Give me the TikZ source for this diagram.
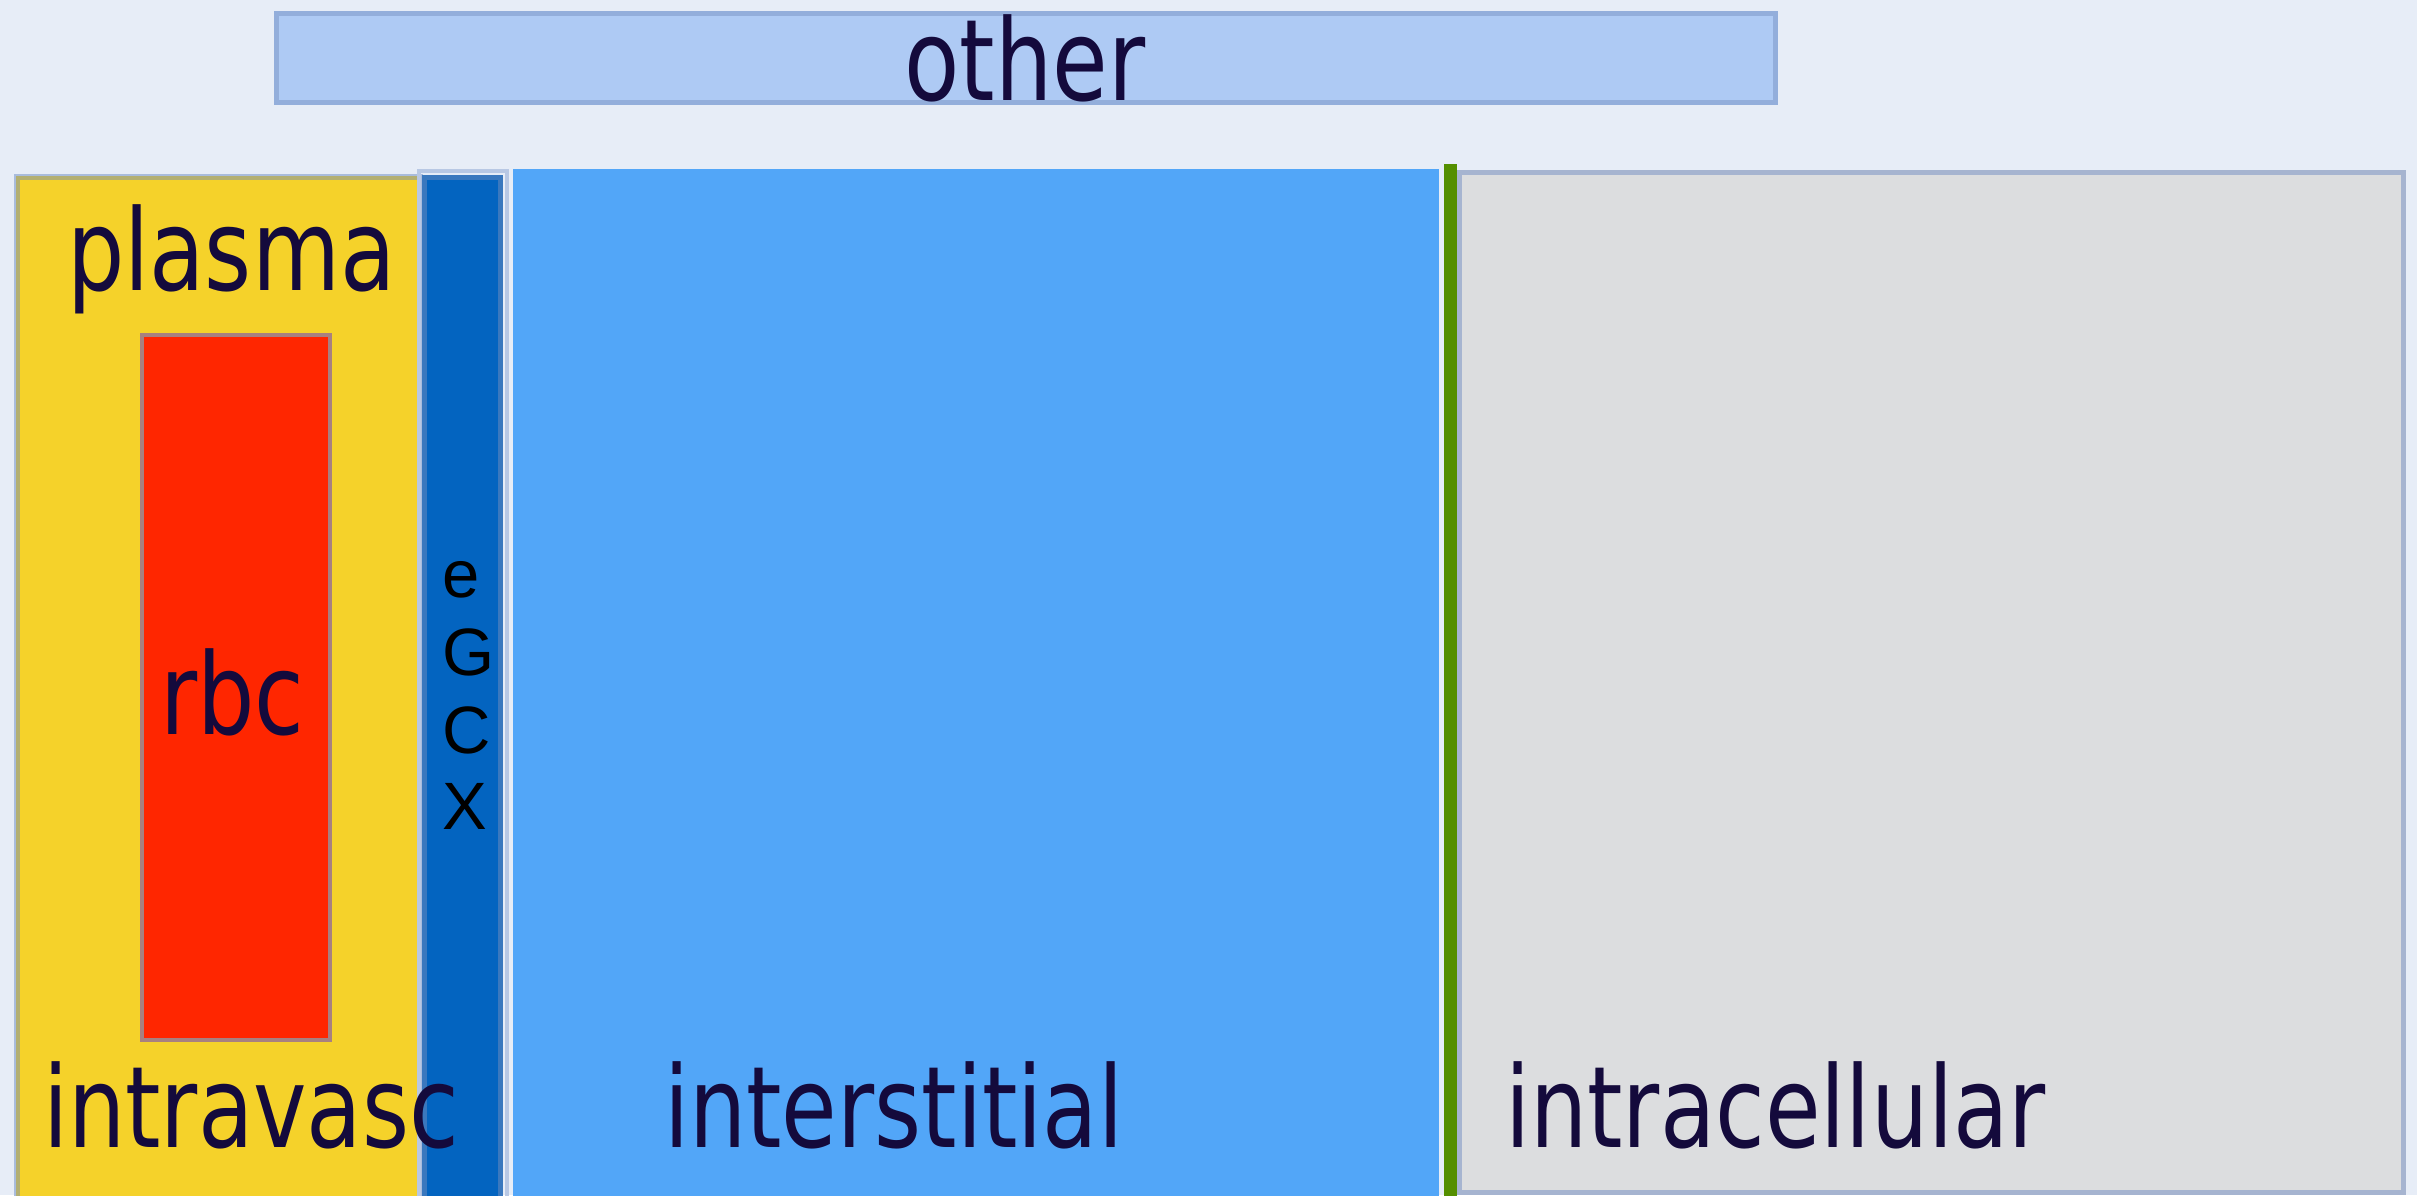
\documentclass[tikz,border=0pt]{standalone}
\usepackage{fontspec}
\newfontfamily\lblfont[FakeStretch=0.8]{DejaVu Sans}
\newfontfamily\gcxfont{Liberation Sans}
\definecolor{bgc}{HTML}{E7EDF7}
\definecolor{otherfill}{HTML}{AECAF4}
\definecolor{otherline}{HTML}{93AEDB}
\definecolor{plasmafill}{HTML}{F5D22A}
\definecolor{plasmaline}{HTML}{B3AF72}
\definecolor{frameline}{HTML}{A9BCDC}
\definecolor{rbcfill}{HTML}{FF2600}
\definecolor{rbcline}{HTML}{A88080}
\definecolor{gcxfill}{HTML}{0364C0}
\definecolor{gcxline}{HTML}{3A78BE}
\definecolor{gcxouter}{HTML}{B8C8E4}
\definecolor{interfill}{HTML}{52A6F8}
\definecolor{greenline}{HTML}{548F00}
\definecolor{cellfill}{HTML}{DCDDDF}
\definecolor{cellline}{HTML}{A6B4D0}
\definecolor{txt}{HTML}{140A3C}
\tikzset{
  lbl/.style={inner sep=0pt, outer sep=0pt, text=txt, font=\lblfont\fontsize{113}{113}\selectfont},
  gcx/.style={inner sep=0pt, outer sep=0pt, text=black, font=\gcxfont\fontsize{67}{67}\selectfont, anchor=base west},
}
\begin{document}
\begin{tikzpicture}[x=1pt,y=-1pt]
\useasboundingbox (0,0) rectangle (2417,1195);
\clip (0,0) rectangle (2417,1195);
\fill[bgc] (0,0) rectangle (2417,1195);
% other
\draw[otherline, line width=5pt, fill=otherfill] (276.5,13.5) rectangle (1775.5,102.5);
\node[lbl, anchor=base] (other) at (1025,100) {other};
% plasma / intravascular
\draw[frameline, line width=3pt] (15.5,175.5) rectangle (421.5,1210);
\draw[plasmaline, line width=4pt, fill=plasmafill] (18,178) rectangle (419,1210);
% rbc
\draw[rbcline, line width=4pt, fill=rbcfill] (142,335) rectangle (330,1040);
% eGCX
\draw[gcxouter, line width=4pt] (419,171) rectangle (507,1210);
\draw[gcxline, line width=5pt, fill=gcxfill] (424.5,177.5) rectangle (500.5,1205);
% interstitial
\fill[interfill] (513,169) rectangle (1439,1200);
% green line
\fill[greenline] (1444,164) rectangle (1457,1200);
% intracellular
\draw[cellline, line width=5pt, fill=cellfill] (1459.5,172.5) rectangle (2403.5,1192.5);
% labels
\node[lbl, anchor=base west] (plasma) at (67,290) {plasma};
\node[lbl, anchor=base west] (rbc) at (160,734) {rbc};
\node[lbl, anchor=base west] (intravasc) at (43,1147) {intravasc};
\node[lbl, anchor=base west] (interstitial) at (664,1147) {interstitial};
\node[lbl, anchor=base west] (intracellular) at (1505,1147) {intracellular};
\node[gcx] (ge) at (442,597) {e};
\node[gcx] (gG) at (442,675) {G};
\node[gcx] (gC) at (442,753) {C};
\node[gcx] (gX) at (442,829) {X};
\end{tikzpicture}
\end{document}
